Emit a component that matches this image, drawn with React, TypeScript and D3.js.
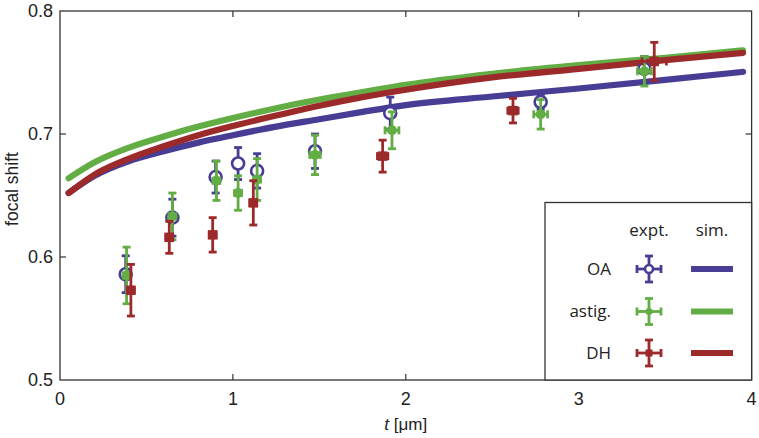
import React from "react";
import * as d3 from "d3";

// ---- data ----
const xTicks = [0, 1, 2, 3, 4];
const yTicks = [0.5, 0.6, 0.7, 0.8];

const simT = [0.05, 0.2, 0.4, 0.6, 0.8, 1.0, 1.25, 1.5, 1.75, 2.0, 2.5, 3.0, 3.5, 3.95];
const simOA = [0.652, 0.666, 0.678, 0.686, 0.693, 0.699, 0.706, 0.712, 0.718, 0.7235, 0.7305, 0.737, 0.744, 0.7505];
const simAstig = [0.664, 0.677, 0.689, 0.698, 0.706, 0.713, 0.721, 0.728, 0.734, 0.740, 0.749, 0.756, 0.762, 0.768];
const simDH = [0.652, 0.667, 0.680, 0.690, 0.699, 0.7065, 0.715, 0.723, 0.730, 0.736, 0.746, 0.753, 0.760, 0.766];

const oaT = [0.38, 0.65, 0.9, 1.03, 1.14, 1.475, 1.91, 2.78, 3.38];
const oaY = [0.586, 0.632, 0.665, 0.676, 0.67, 0.686, 0.717, 0.726, 0.753];
const oaYErr = [0.015, 0.015, 0.013, 0.013, 0.014, 0.014, 0.013, 0.006, 0.01];
const oaXErr = [0.02, 0.02, 0.02, 0.02, 0.02, 0.02, 0.02, 0.02, 0.02];

const asT = [0.385, 0.65, 0.905, 1.03, 1.14, 1.475, 1.92, 2.78, 3.38];
const asY = [0.585, 0.633, 0.662, 0.652, 0.663, 0.683, 0.703, 0.716, 0.751];
const asYErr = [0.023, 0.019, 0.016, 0.014, 0.017, 0.016, 0.015, 0.012, 0.012];
const asXErr = [0.02, 0.02, 0.02, 0.02, 0.02, 0.03, 0.04, 0.04, 0.04];

const dhT = [0.41, 0.632, 0.883, 1.118, 1.866, 2.62, 3.437];
const dhY = [0.573, 0.616, 0.618, 0.644, 0.682, 0.719, 0.759];
const dhYErr = [0.021, 0.013, 0.014, 0.018, 0.013, 0.01, 0.0155];
const dhXErr = [0.02, 0.02, 0.02, 0.02, 0.03, 0.03, 0.07];

const legendLabels = ["OA", "astig.", "DH"];

const BLUE = "#473d94";
const GREEN = "#62ad44";
const RED = "#9d2a2b";

const W = 759;
const H = 438;

const x = d3.scaleLinear().domain([0, 4]).range([60, 751.6]);
const y = d3.scaleLinear().domain([0.5, 0.8]).range([380, 11]);

const AX = "#333";
const TICKFONT = "'Liberation Sans', Arial, sans-serif";
const LEGFONT = "'Open Sans', 'Noto Sans', sans-serif";

function ErrBar({ cx, cy, ex, ey, color }: { cx: number; cy: number; ex: number; ey: number; color: string }) {
  const cap = 4;
  return (
    <g stroke={color} strokeWidth={2.8} fill="none">
      <line x1={cx} y1={cy - ey} x2={cx} y2={cy + ey} />
      <line x1={cx - cap} y1={cy - ey} x2={cx + cap} y2={cy - ey} />
      <line x1={cx - cap} y1={cy + ey} x2={cx + cap} y2={cy + ey} />
      {ex > 3 && (
        <>
          <line x1={cx - ex} y1={cy} x2={cx + ex} y2={cy} />
          <line x1={cx - ex} y1={cy - cap} x2={cx - ex} y2={cy + cap} />
          <line x1={cx + ex} y1={cy - cap} x2={cx + ex} y2={cy + cap} />
        </>
      )}
    </g>
  );
}

function Marker({ kind, cx, cy, color, small }: { kind: string; cx: number; cy: number; color: string; small?: boolean }) {
  if (kind === "circle")
    return <circle cx={cx} cy={cy} r={small ? 4 : 6} fill="white" stroke={color} strokeWidth={2.6} />;
  if (kind === "dot") return <circle cx={cx} cy={cy} r={small ? 3.5 : 5} fill={color} />;
  const s = small ? 7 : 9.5;
  return <rect x={cx - s / 2} y={cy - s / 2} width={s} height={s} fill={color} />;
}

export default function App() {
  const line = d3
    .line<number>()
    .x((_, i) => x(simT[i]))
    .y((d) => y(d))
    .curve(d3.curveMonotoneX);

  const series = [
    { t: oaT, v: oaY, ey: oaYErr, ex: oaXErr, color: BLUE, kind: "circle" },
    { t: asT, v: asY, ey: asYErr, ex: asXErr, color: GREEN, kind: "dot" },
    { t: dhT, v: dhY, ey: dhYErr, ex: dhXErr, color: RED, kind: "square" },
  ];
  const sims = [
    { v: simOA, color: BLUE },
    { v: simAstig, color: GREEN },
    { v: simDH, color: RED },
  ];

  const x0 = x(0), x1 = x(4), yTop = y(0.8), yBot = y(0.5);
  const legY = [269, 311.5, 353];
  const legColors = [BLUE, GREEN, RED];
  const legKinds = ["circle", "dot", "square"];

  return (
    <svg width={W} height={H} style={{ position: "absolute", left: 0, top: 0, background: "white" }}>
      <rect x={0} y={0} width={W} height={H} fill="white" />
      {/* sim curves */}
      {sims.map((s, i) => (
        <path key={i} d={line(s.v) || ""} fill="none" stroke={s.color} strokeWidth={6.2} strokeLinecap="round" />
      ))}
      {/* experimental points */}
      {series.map((s, si) => (
        <g key={si}>
          {s.t.map((t, i) => {
            const cx = x(t), cy = y(s.v[i]);
            const ey = y(s.v[i] - s.ey[i]) - cy;
            const ex = x(t + s.ex[i]) - cx;
            return (
              <g key={i}>
                <ErrBar cx={cx} cy={cy} ex={ex} ey={ey} color={s.color} />
                <Marker kind={s.kind} cx={cx} cy={cy} color={s.color} />
              </g>
            );
          })}
        </g>
      ))}
      {/* frame */}
      <rect x={x0} y={yTop} width={x1 - x0} height={yBot - yTop} fill="none" stroke={AX} strokeWidth={1.3} />
      {xTicks.slice(1, -1).map((t) => (
        <g key={t} stroke={AX} strokeWidth={1.2}>
          <line x1={x(t)} x2={x(t)} y1={yBot} y2={yBot - 6} />
          <line x1={x(t)} x2={x(t)} y1={yTop} y2={yTop + 6} />
        </g>
      ))}
      {yTicks.slice(1, -1).map((t) => (
        <g key={t} stroke={AX} strokeWidth={1.2}>
          <line x1={x0} x2={x0 + 6} y1={y(t)} y2={y(t)} />
          <line x1={x1} x2={x1 - 6} y1={y(t)} y2={y(t)} />
        </g>
      ))}
      {/* tick labels */}
      {yTicks.map((t) => (
        <text key={t} x={53} y={y(t)} dy="0.36em" textAnchor="end" fontFamily={TICKFONT} fontSize={18} fill="#222">
          {t.toFixed(1)}
        </text>
      ))}
      {xTicks.map((t) => (
        <text key={t} x={x(t)} y={405} textAnchor="middle" fontFamily={TICKFONT} fontSize={18} fill="#222">
          {t}
        </text>
      ))}
      <text x={x(2)} y={430} textAnchor="middle" fontFamily={TICKFONT} fontSize={17} fill="#222">
        <tspan fontStyle="italic">t</tspan> [μm]
      </text>
      <text
        transform={`translate(18,189) rotate(-90)`}
        textAnchor="middle"
        fontFamily={TICKFONT}
        fontSize={17.5}
        fill="#222"
      >
        focal shift
      </text>
      {/* legend */}
      <rect x={545} y={202.5} width={x1 - 545} height={yBot - 202.5} fill="white" stroke={AX} strokeWidth={1.3} />
      <text x={649} y={230} dy="0.35em" textAnchor="middle" fontFamily={LEGFONT} fontSize={17} fill="#222">
        expt.
      </text>
      <text x={712} y={230} dy="0.35em" textAnchor="middle" fontFamily={LEGFONT} fontSize={17} fill="#222">
        sim.
      </text>
      {legendLabels.map((lab, i) => (
        <g key={lab}>
          <text x={611} y={legY[i]} dy="0.35em" textAnchor="end" fontFamily={LEGFONT} fontSize={17} fill="#222">
            {lab}
          </text>
          <ErrBar cx={649} cy={legY[i]} ex={12} ey={13} color={legColors[i]} />
          <Marker kind={legKinds[i]} cx={649} cy={legY[i]} color={legColors[i]} small />
          <line x1={691} x2={733} y1={legY[i]} y2={legY[i]} stroke={legColors[i]} strokeWidth={6} />
        </g>
      ))}
    </svg>
  );
}
